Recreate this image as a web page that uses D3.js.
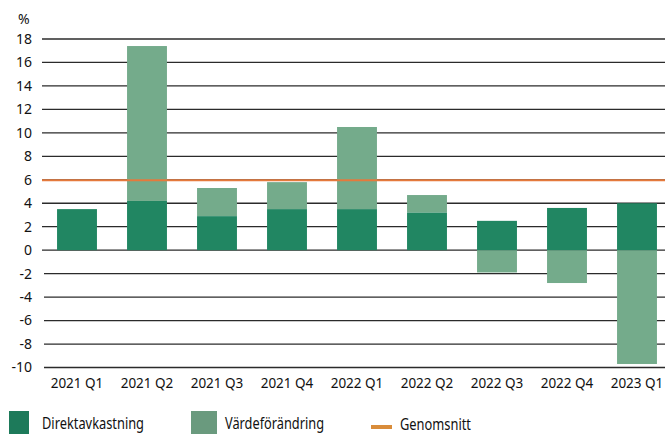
<!DOCTYPE html>
<html lang="sv">
<head>
    <meta charset="UTF-8">
    <title>Totalavkastning per kvartal</title>
    <script src="https://d3js.org/d3.v7.min.js"></script>
    <style>
        body { margin: 0; background: #fff; }
        text { font-family: "Noto Sans", "Open Sans", sans-serif; fill: #111; }
    </style>
</head>
<body>
<div id="chart"></div>
<script>

    // data
    var quarters = ["2021 Q1", "2021 Q2", "2021 Q3", "2021 Q4", "2022 Q1", "2022 Q2", "2022 Q3", "2022 Q4", "2023 Q1"];
    var direktavkastning = [3.5, 4.2, 2.9, 3.5, 3.5, 3.2, 2.5, 3.6, 4.0];
    var vardeforandring = [0, 13.2, 2.4, 2.3, 7.0, 1.5, -1.9, -2.8, -9.7];
    var genomsnitt = 5.95;
    var yTicks = [-10, -8, -6, -4, -2, 0, 2, 4, 6, 8, 10, 12, 14, 16, 18];

    var width = 665, height = 434;
    var darkGreen = "#218662", lightGreen = "#74ab8b", orange = "#e57a3c";

    var svg = d3.select("#chart")
        .append("svg")
        .attr("width", width)
        .attr("height", height);

    var x = d3.scaleBand()
        .domain(quarters)
        .range([42, 672])
        .paddingInner(0.43)
        .paddingOuter(0.215);

    var y = d3.scaleLinear()
        .domain([-10, 18])
        .range([367.5, 39]);

    // grid lines
    svg.append("g")
        .selectAll("line")
        .data(yTicks)
        .enter()
        .append("line")
        .attr("x1", function (d) { return d < 0 ? 44 : 42; })
        .attr("x2", width)
        .attr("y1", function (d) { return y(d); })
        .attr("y2", function (d) { return y(d); })
        .attr("stroke", "#2b2b2b")
        .attr("stroke-width", 1.3);

    // y labels
    svg.append("g")
        .selectAll("text")
        .data(yTicks)
        .enter()
        .append("text")
        .attr("x", 32)
        .attr("y", function (d) { return y(d); })
        .attr("dy", "0.35em")
        .attr("text-anchor", "end")
        .attr("font-size", 14)
        .text(function (d) { return d; });

    svg.append("text")
        .attr("x", 18)
        .attr("y", 24)
        .attr("font-size", 14)
        .text("%");

    // value change bars (stacked on top of direct yield if positive)
    svg.append("g")
        .selectAll("rect")
        .data(quarters)
        .enter()
        .append("rect")
        .attr("x", function (d) { return x(d); })
        .attr("width", x.bandwidth())
        .attr("y", function (d, i) {
            var v = vardeforandring[i];
            return v >= 0 ? y(direktavkastning[i] + v) : y(0);
        })
        .attr("height", function (d, i) {
            var v = vardeforandring[i];
            return v >= 0 ? y(direktavkastning[i]) - y(direktavkastning[i] + v) : y(v) - y(0);
        })
        .attr("fill", lightGreen);

    // direct yield bars
    svg.append("g")
        .selectAll("rect")
        .data(quarters)
        .enter()
        .append("rect")
        .attr("x", function (d) { return x(d); })
        .attr("width", x.bandwidth())
        .attr("y", function (d, i) { return y(direktavkastning[i]); })
        .attr("height", function (d, i) { return y(0) - y(direktavkastning[i]); })
        .attr("fill", darkGreen);

    // average line
    svg.append("line")
        .attr("x1", 42)
        .attr("x2", width)
        .attr("y1", y(genomsnitt))
        .attr("y2", y(genomsnitt))
        .attr("stroke", orange)
        .attr("stroke-width", 2);

    // x labels
    svg.append("g")
        .selectAll("text")
        .data(quarters)
        .enter()
        .append("text")
        .attr("x", function (d) { return x(d) + x.bandwidth() / 2; })
        .attr("y", 388)
        .attr("text-anchor", "middle")
        .attr("font-size", 13.5)
        .text(function (d) { return d; });

    // legend (fonts squeezed to the narrow face of the original)
    var legend = svg.append("g");
    legend.append("rect").attr("x", 9).attr("y", 411).attr("width", 20).attr("height", 23).attr("fill", "#1d7a5a");
    legend.append("text").attr("x", 42).attr("y", 429).attr("font-size", 17)
        .attr("textLength", 102).attr("lengthAdjust", "spacingAndGlyphs").text("Direktavkastning");
    legend.append("rect").attr("x", 191).attr("y", 411).attr("width", 26).attr("height", 23).attr("fill", "#6a9a7e");
    legend.append("text").attr("x", 225).attr("y", 429).attr("font-size", 17)
        .attr("textLength", 99).attr("lengthAdjust", "spacingAndGlyphs").text("Värdeförändring");
    legend.append("rect").attr("x", 371).attr("y", 425).attr("width", 21).attr("height", 4).attr("fill", "#d98c3a");
    legend.append("text").attr("x", 400).attr("y", 430).attr("font-size", 17)
        .attr("textLength", 71).attr("lengthAdjust", "spacingAndGlyphs").text("Genomsnitt");

</script>
</body>
</html>
